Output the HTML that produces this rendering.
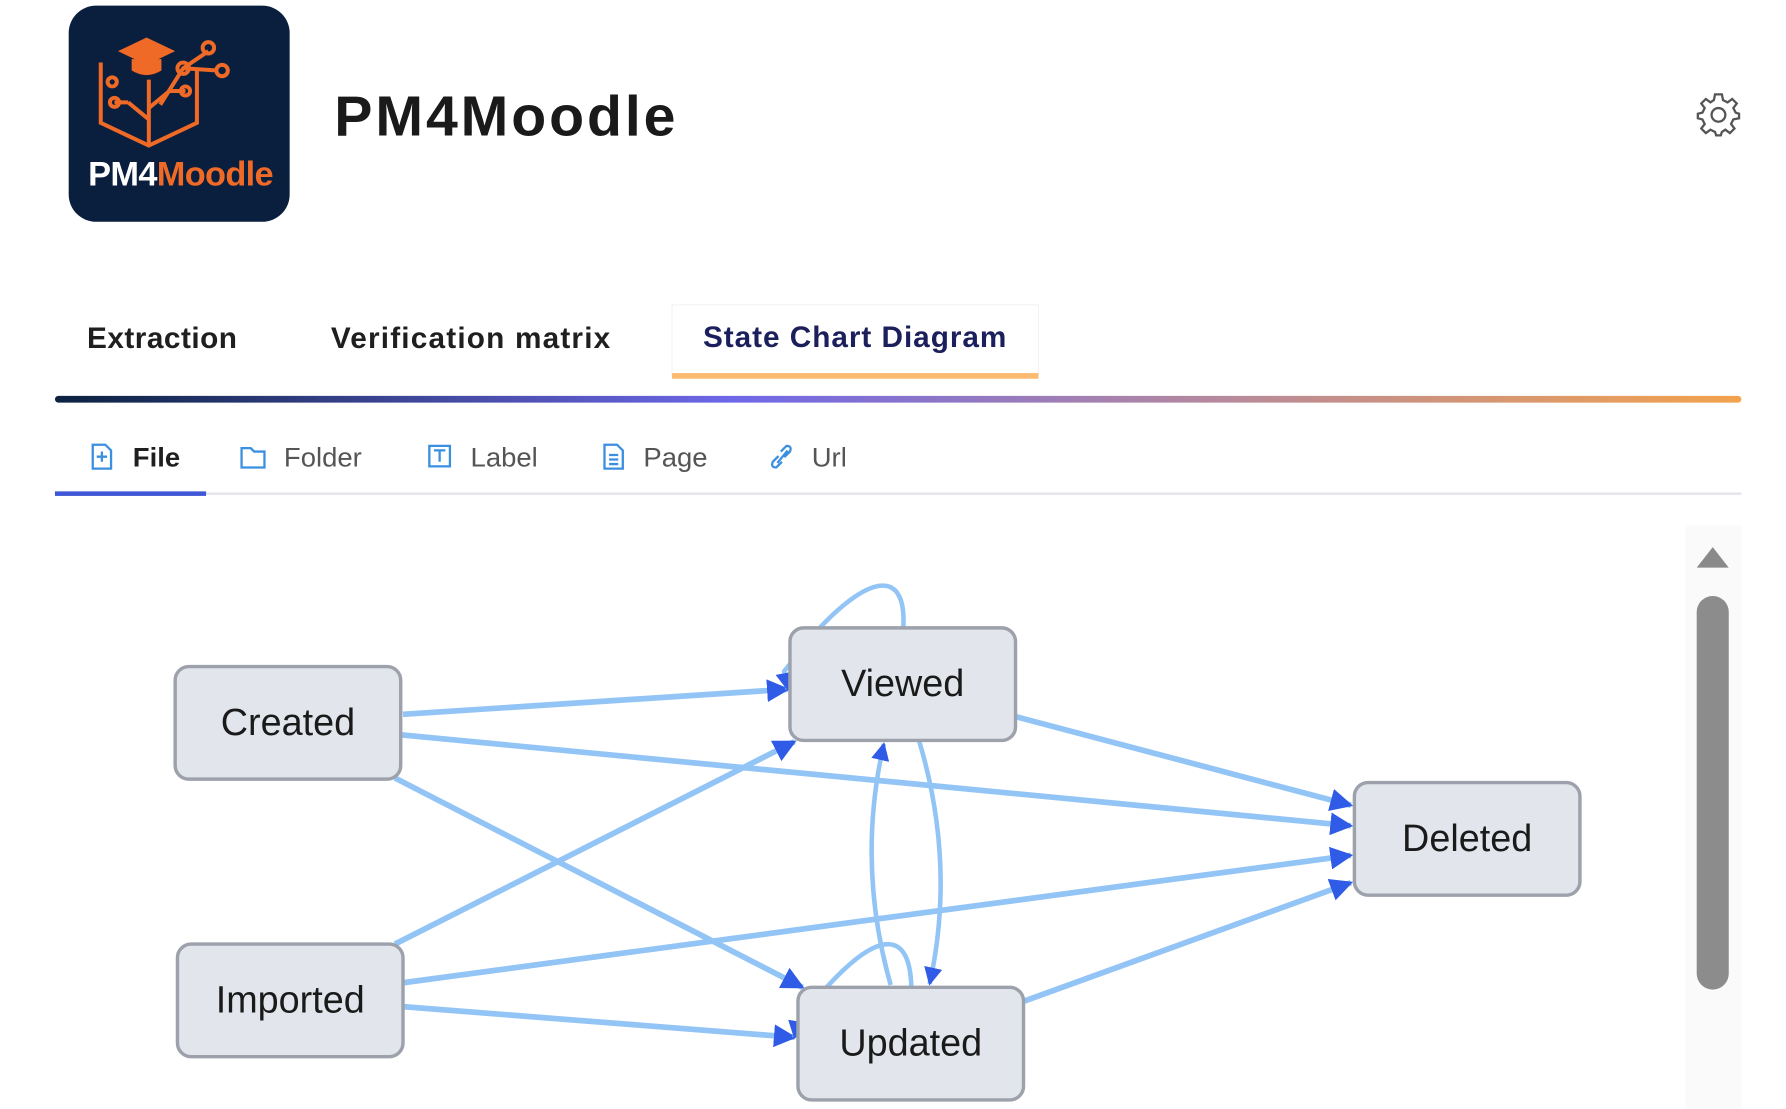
<!DOCTYPE html>
<html><head><meta charset="utf-8"><style>
html,body{margin:0;padding:0;background:#fff;width:1786px;height:1109px;overflow:hidden}
svg{display:block}
text{font-family:"Liberation Sans",Arial,sans-serif}
</style></head><body>
<svg width="1786" height="1109" viewBox="0 0 1560 975" preserveAspectRatio="none" xmlns="http://www.w3.org/2000/svg">
<defs>
<marker id="ah" viewBox="0 0 10 10" refX="9" refY="5" markerWidth="4" markerHeight="4" orient="auto" markerUnits="strokeWidth">
<path d="M0,0 L10,5 L0,10 z" fill="#2f5be6"/></marker>
<linearGradient id="gb" x1="0" x2="1"><stop offset="0" stop-color="#0b2240"/><stop offset="0.4" stop-color="#6e67e8"/><stop offset="0.7" stop-color="#b88a9a"/><stop offset="1" stop-color="#f3a24c"/></linearGradient>
</defs>
<rect x="60" y="5" width="193" height="190" rx="24" fill="#0a1e3d"/>
<g fill="none" stroke="#ef6a27" stroke-width="3.5">
<path d="M88,55 L88,108 L130,128 L172,108 L172,60"/>
<path d="M130,128 L130,70"/>
<path d="M130,105 L112,90 M112,90 L100,90 M130,95 L148,80 M148,80 L162,80"/>
<path d="M140,92 L160,60 L182,45 M160,60 L190,62"/>
<circle cx="182" cy="42" r="5"/><circle cx="194" cy="62" r="5"/><circle cx="160" cy="60" r="5"/><circle cx="100" cy="90" r="4"/><circle cx="162" cy="80" r="4"/><circle cx="98" cy="72" r="4"/>
</g>
<path d="M103,45 L128,33 L153,45 L128,57 z" fill="#ef6a27"/>
<path d="M115,52 L115,62 Q128,70 141,62 L141,52" fill="#ef6a27"/>
<text x="77" y="163" font-size="30" font-weight="bold" fill="#fff" textLength="162">PM4<tspan fill="#ef6a27">Moodle</tspan></text>
<text x="292" y="119" font-size="50" font-weight="bold" fill="#1a1a1a" textLength="298">PM4Moodle</text>
<g transform="translate(1501,101)" fill="none" stroke="#555" stroke-width="2">
<circle r="6"/>
<path d="M-3,-17 L3,-17 L4,-12 L8,-10 L12,-13 L16,-9 L13,-5 L15,-1 L18,0 L18,4 L13,5 L11,9 L14,13 L10,17 L6,14 L3,16 L2,19 L-2,19 L-3,16 L-7,14 L-11,17 L-15,13 L-12,9 L-14,5 L-18,4 L-18,0 L-14,-1 L-12,-5 L-15,-9 L-11,-13 L-7,-10 L-4,-12 z" transform="translate(0,-1)"/>
</g>
<rect x="587" y="268" width="320" height="62" fill="#fff" stroke="#f3f3f6"/>
<rect x="587" y="328" width="320" height="5" fill="#fdbb72"/>
<text x="76" y="306" font-size="26" font-weight="bold" fill="#1f1f1f" textLength="131">Extraction</text>
<text x="289" y="306" font-size="26" font-weight="bold" fill="#1f1f1f" textLength="244">Verification matrix</text>
<text x="614" y="305" font-size="26" font-weight="bold" fill="#1b1f5c" textLength="265">State Chart Diagram</text>
<rect x="48" y="348" width="1473" height="6" rx="3" fill="url(#gb)"/>
<line x1="48" y1="434" x2="1521" y2="434" stroke="#e2e4ea" stroke-width="2"/>
<rect x="48" y="432" width="132" height="4" fill="#3f57d6"/>
<g fill="none" stroke="#3b8fe0" stroke-width="2">
<path d="M81,391 L92,391 L97,396 L97,412 L81,412 z"/><path d="M89,397 L89,406 M84.5,401.5 L93.5,401.5"/>
<path d="M211,394 L219,394 L222,397 L231,397 L231,411 L211,411 z"/>
<rect x="375" y="392" width="18" height="18"/><path d="M379,396 L389,396 M384,396 L384,406"/>
<path d="M528,391 L539,391 L544,396 L544,412 L528,412 z"/><path d="M532,400 L540,400 M532,404 L540,404 M532,408 L540,408"/>
<path d="M680,401 L675,406 Q673,411 678,411 L683,406 M685,402 L690,397 Q692,392 687,392 L682,397 M679,407 L688,396"/>
</g>
<text x="116" y="410" font-size="24" font-weight="bold" fill="#1f1f1f">File</text>
<text x="248" y="410" font-size="24" fill="#555">Folder</text>
<text x="411" y="410" font-size="24" fill="#555">Label</text>
<text x="562" y="410" font-size="24" fill="#555">Page</text>
<text x="709" y="410" font-size="24" fill="#555">Url</text>
<rect x="1472" y="462" width="49" height="513" fill="#fafafa"/>
<path d="M1482,499 L1496,481 L1510,499 z" fill="#8a8a8a"/>
<rect x="1482" y="524" width="28" height="346" rx="14" fill="#8c8c8c"/>
<g fill="none" stroke="#93c4f6" stroke-width="5" marker-end="url(#ah)">
<path d="M352,628 L688,606"/>
<path d="M350,646 L1180,726"/>
<path d="M345,684 L701,868"/>
<path d="M345,830 L694,652"/>
<path d="M352,864 L1180,752"/>
<path d="M352,885 L694,912"/>
<path d="M887,630 L1180,708"/>
<path d="M895,880 L1180,776"/>
<path d="M803,652 Q835,760 812,865" stroke-width="4"/>
<path d="M778,866 Q748,760 772,654" stroke-width="4"/>
<path d="M789,552 C792,500 760,505 716,552 L685,590 L688,606" stroke-width="4"/>
<path d="M796,868 C795,820 770,815 722,868 L696,900 L694,912" stroke-width="4"/>
</g>
<g fill="#e2e6ec" stroke="#9ca1ab" stroke-width="3">
<rect x="153" y="586" width="197" height="99" rx="12"/>
<rect x="690" y="552" width="197" height="99" rx="12"/>
<rect x="1183" y="688" width="197" height="99" rx="12"/>
<rect x="155" y="830" width="197" height="99" rx="12"/>
<rect x="697" y="868" width="197" height="99" rx="12"/>
</g>
<g font-size="33" fill="#1a1a1a" text-anchor="middle">
<text x="251.5" y="646">Created</text>
<text x="788.5" y="612">Viewed</text>
<text x="1281.5" y="748">Deleted</text>
<text x="253.5" y="890">Imported</text>
<text x="795.5" y="928">Updated</text>
</g>
</svg>
</body></html>
